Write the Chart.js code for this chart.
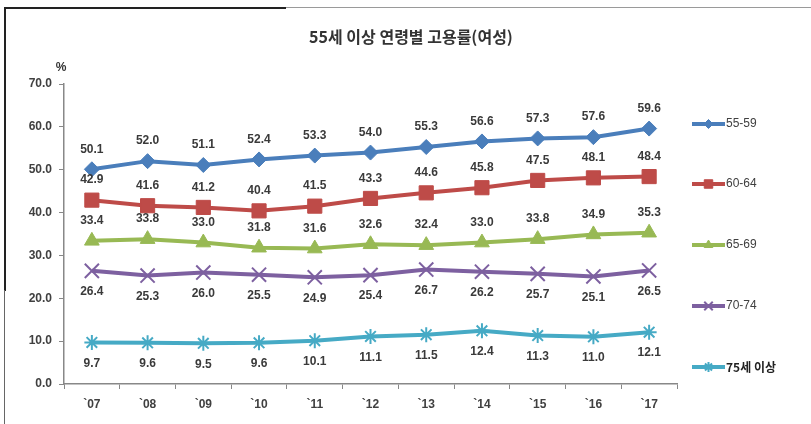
<!DOCTYPE html>
<html><head><meta charset="utf-8">
<script src="https://cdn.jsdelivr.net/npm/chart.js@4/dist/chart.umd.min.js"></script>
<style>
html,body{margin:0;padding:0;background:#fff;}
#wrap{position:relative;width:811px;height:424px;}
canvas{position:absolute;left:0;top:0;}
.fr{position:absolute;}
</style></head>
<body>
<div id="wrap">
<canvas id="c" width="811" height="424"></canvas>
<div class="fr" style="left:4px;top:7px;width:807px;height:1px;background:#9a9a9a"></div>
<div class="fr" style="left:4px;top:7px;width:282px;height:2px;background:#222"></div>
<div class="fr" style="left:4px;top:7px;width:2px;height:284px;background:#222"></div>
<div class="fr" style="left:4px;top:290px;width:1px;height:134px;background:#666"></div>
</div>
<script>
const TITLE = '55세 이상 연령별 고용률(여성)';
const UNIT = '%';
const categories = ["`07","`08","`09","`10","`11","`12","`13","`14","`15","`16","`17"];
const seriesNames = ['55-59','60-64','65-69','70-74','75세 이상'];
const s5559 = [50.1,52.0,51.1,52.4,53.3,54.0,55.3,56.6,57.3,57.6,59.6];
const s6064 = [42.9,41.6,41.2,40.4,41.5,43.3,44.6,45.8,47.5,48.1,48.4];
const s6569 = [33.4,33.8,33.0,31.8,31.6,32.6,32.4,33.0,33.8,34.9,35.3];
const s7074 = [26.4,25.3,26.0,25.5,24.9,25.4,26.7,26.2,25.7,25.1,26.5];
const s75up = [9.7,9.6,9.5,9.6,10.1,11.1,11.5,12.4,11.3,11.0,12.1];
const yTicks = [0,10,20,30,40,50,60,70];

const colors = ['#4A7EBB','#BE4B48','#98B954','#7D60A0','#46AAC5'];
const shapes = ['rectRot','rect','triangle','crossRot','star'];
const radii = [7.5,10,8.5,10,7.5];
const legendRadii = [4.5,6,5,6,5];
const labelPos = ['above','above','above','below','below'];
const allData = [s5559,s6064,s6569,s7074,s75up];

const FONT = "'Liberation Sans', Arial, sans-serif";
const KFONT = "'Noto Sans CJK KR', 'Liberation Sans', sans-serif";

const datasets = allData.map((d,i)=>({
  label: seriesNames[i],
  data: d,
  borderColor: colors[i],
  backgroundColor: colors[i],
  borderWidth: 4,
  pointStyle: shapes[i],
  pointRadius: radii[i],
  pointHoverRadius: radii[i],
  pointBorderWidth: (shapes[i]==='crossRot'||shapes[i]==='star') ? 2 : 1,
  pointBackgroundColor: colors[i],
  pointBorderColor: colors[i],
  tension: 0,
  fill: false,
  labelPos: labelPos[i]
}));

const extras = {
  id: 'extras',
  afterDatasetsDraw(chart){
    const ctx = chart.ctx;
    ctx.save();
    ctx.font = "bold 12px " + FONT;
    ctx.fillStyle = '#3a3a3a';
    ctx.textAlign = 'center';
    ctx.textBaseline = 'middle';
    chart.data.datasets.forEach((ds,i)=>{
      const meta = chart.getDatasetMeta(i);
      meta.data.forEach((pt,j)=>{
        const off = ds.labelPos==='above' ? -20 : 21;
        ctx.fillText(ds.data[j].toFixed(1), pt.x, pt.y + off);
      });
    });
    // title
    ctx.font = "bold 16px " + KFONT;
    ctx.fillStyle = '#333';
    ctx.fillText(TITLE, 411, 37);
    // unit
    ctx.font = "bold 12px " + FONT;
    ctx.fillText(UNIT, 61, 68);
    // legend
    const ys = [124,184,245,306,367];
    chart.data.datasets.forEach((ds,i)=>{
      const y = ys[i];
      ctx.strokeStyle = ds.borderColor;
      ctx.lineWidth = 4;
      ctx.beginPath(); ctx.moveTo(692,y); ctx.lineTo(725,y); ctx.stroke();
      ctx.fillStyle = ds.backgroundColor;
      ctx.strokeStyle = ds.borderColor;
      ctx.lineWidth = ds.pointBorderWidth;
      Chart.helpers.drawPoint(ctx, {pointStyle: ds.pointStyle, rotation:0, radius: legendRadii[i], borderWidth: ds.pointBorderWidth}, 708.5, y);
      ctx.font = (i===4 ? "bold 12px " + KFONT : "12px " + FONT);
      ctx.fillStyle = i===4 ? '#222' : '#404040';
      ctx.textAlign = 'left';
      ctx.fillText(ds.label, 726, y);
    });
    ctx.restore();
  }
};

new Chart(document.getElementById('c'), {
  type: 'line',
  data: { labels: categories, datasets },
  options: {
    responsive: false,
    animation: false,
    layout: { padding: { top: 84, right: 134, bottom: 0, left: 0 } },
    plugins: { legend: { display: false }, title: { display: false }, tooltip: { enabled: false } },
    scales: {
      x: {
        offset: true,
        grid: { offset: true, drawOnChartArea: false, color: '#888', tickLength: 5, tickColor: '#888' },
        border: { color: '#888', width: 1.5 },
        ticks: { color: '#404040', font: { size: 12, family: FONT, weight: 'bold' }, padding: 8, maxRotation: 0 },
        afterFit(s){ s.height = 40; }
      },
      y: {
        min: 0, max: 70,
        afterBuildTicks(s){ s.ticks = yTicks.map(v=>({value:v})); },
        grid: { drawOnChartArea: false, color: '#888', tickLength: 5, tickColor: '#888' },
        border: { color: '#888', width: 1.5 },
        ticks: { color: '#404040', font: { size: 12, family: FONT, weight: 'bold' }, padding: 7, callback: v => Number(v).toFixed(1) },
        afterFit(s){ s.width = 64; }
      }
    }
  },
  plugins: [extras]
});
</script>
</body></html>
